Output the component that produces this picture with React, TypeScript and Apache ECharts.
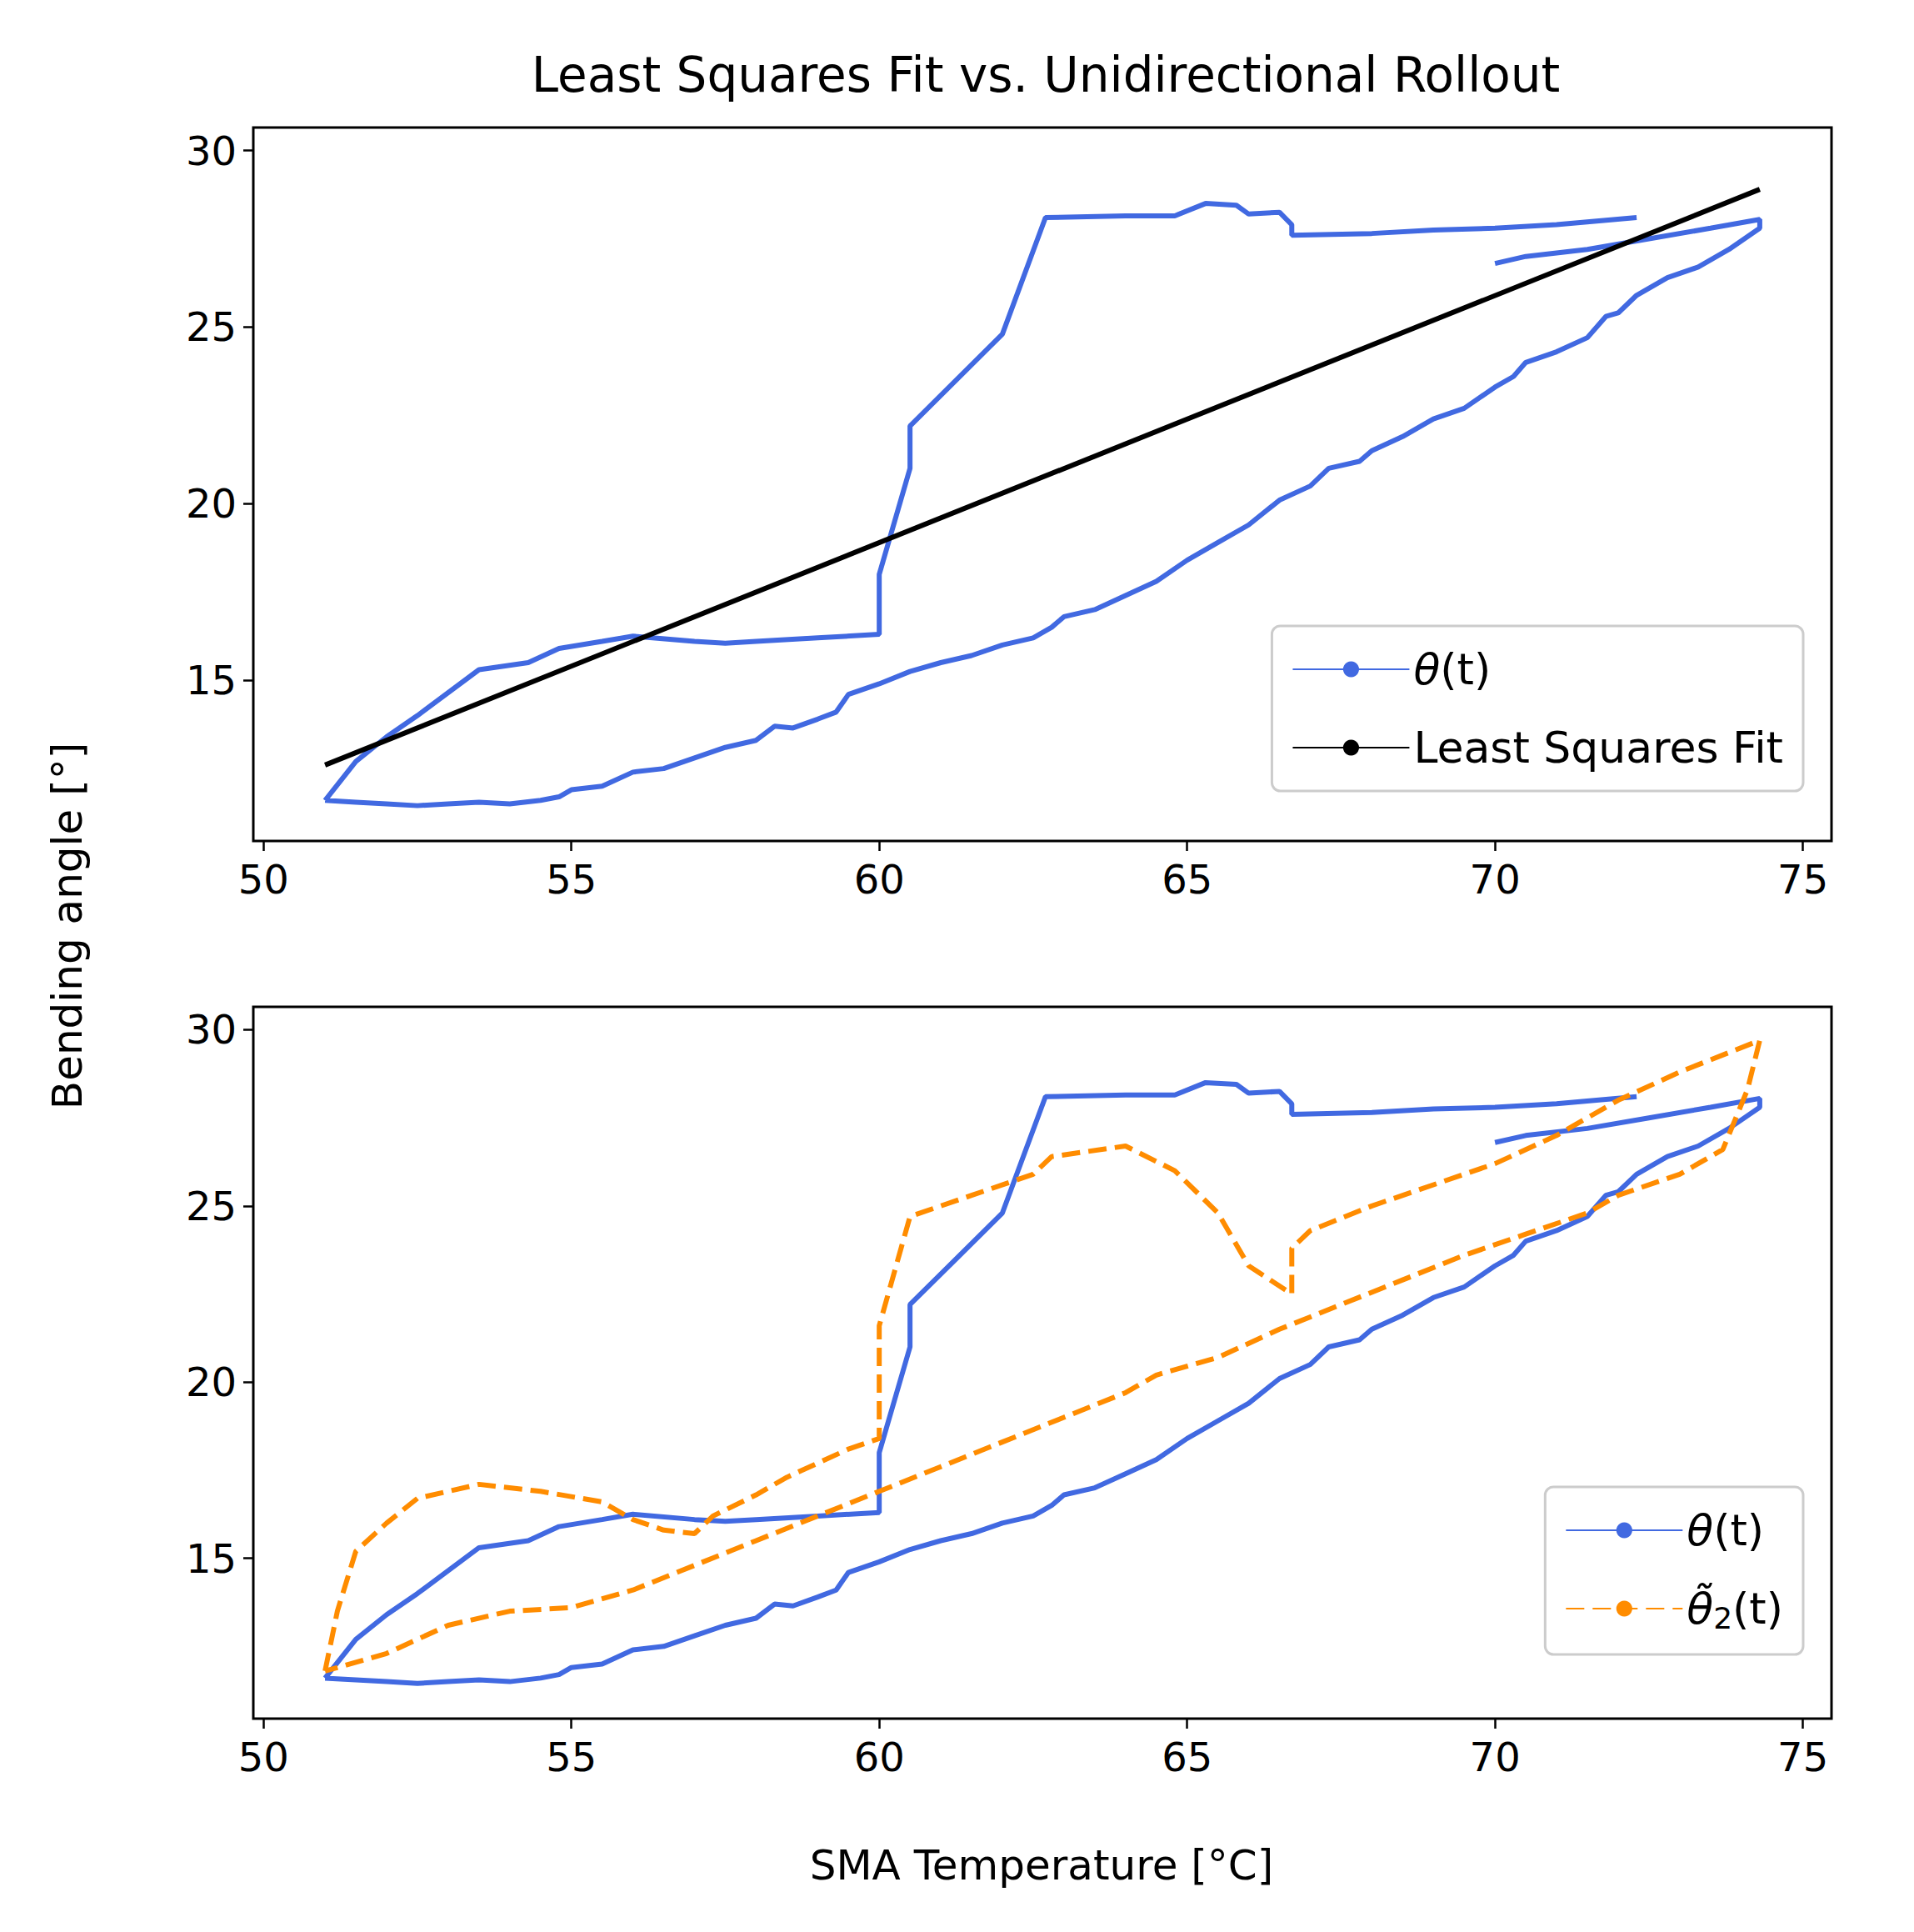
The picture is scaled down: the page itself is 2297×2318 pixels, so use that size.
import React, { useEffect, useRef } from "react";
import * as echarts from "echarts";

const xTicks = [50, 55, 60, 65, 70, 75];
const yTicks = [15, 20, 25, 30];

const thetaLower: [number, number][] = [
  [51, 11.6], [51.5, 11.55], [52, 11.5], [52.5, 11.45], [53, 11.5], [53.5, 11.55], [54, 11.5], [54.5, 11.6], [54.8, 11.7], [55, 11.9], [55.5, 12.0], [56, 12.4], [56.5, 12.5], [57, 12.8], [57.5, 13.1], [58, 13.3], [58.3, 13.7], [58.6, 13.65], [59, 13.9], [59.3, 14.1], [59.5, 14.6], [60, 14.9], [60.5, 15.25], [61, 15.5], [61.5, 15.7], [62, 16.0], [62.5, 16.2], [62.8, 16.5], [63, 16.8], [63.5, 17.0], [64, 17.4], [64.5, 17.8], [65, 18.4], [65.5, 18.9], [66, 19.4], [66.5, 20.1], [67, 20.5], [67.3, 21.0], [67.8, 21.2], [68, 21.5], [68.5, 21.9], [69, 22.4], [69.5, 22.7], [70, 23.3], [70.3, 23.6], [70.5, 24.0], [71, 24.3], [71.5, 24.7], [71.8, 25.3], [72, 25.4], [72.3, 25.9], [72.8, 26.4], [73.3, 26.7], [73.8, 27.2], [74.3, 27.8],
  [74.3, 28.05], [73.5, 27.8], [72.5, 27.5], [71.5, 27.2], [70.5, 27.0], [70, 26.8],
];
const thetaUpper: [number, number][] = [
  [51, 11.6], [51.5, 12.7], [52, 13.4], [52.5, 14.0], [53.5, 15.3], [54.3, 15.5], [54.8, 15.9], [55.5, 16.1], [56, 16.25], [57, 16.1], [57.5, 16.05], [58, 16.1], [59, 16.2], [60, 16.3], [60, 18.0], [60.5, 21.0], [60.5, 22.2], [62, 24.8], [62.7, 28.1], [64, 28.15], [64.8, 28.15], [65.3, 28.5], [65.8, 28.45], [66, 28.2], [66.5, 28.25], [66.7, 27.9], [66.7, 27.6], [68, 27.65], [69, 27.75], [70, 27.8], [71, 27.9], [72.3, 28.1],
];
const fitLine: [number, number][] = [[51, 12.6], [74.3, 28.9]];
const theta2: [number, number][] = [
  [51, 11.8], [51.2, 13.5], [51.5, 15.2], [52, 16.0], [52.5, 16.7], [53.5, 17.1], [54.5, 16.9], [55.5, 16.6], [56, 16.1], [56.5, 15.8], [57, 15.7], [57.3, 16.2], [58, 16.8], [58.5, 17.3], [59, 17.7], [59.5, 18.1], [60, 18.4], [60, 21.6], [60.5, 24.7], [61.5, 25.3], [62.5, 25.9], [62.8, 26.4], [64, 26.7], [64.8, 26.0], [65.5, 24.8], [66, 23.3], [66.7, 22.5], [66.7, 23.8], [67, 24.3], [68, 25.0], [69, 25.6], [70, 26.2], [71, 27.0], [72, 28.0], [73, 28.8], [74.3, 29.7],
  [74.1, 28.3], [73.7, 26.6], [73, 25.9], [72, 25.3], [71.5, 24.8], [70.5, 24.2], [69.5, 23.6], [68.5, 22.9], [67.5, 22.2], [66.5, 21.5], [65.5, 20.7], [64.5, 20.2], [64, 19.7], [63, 19.0], [62, 18.3], [61, 17.6], [60, 16.9], [59, 16.2], [58, 15.5], [57, 14.8], [56, 14.1], [55, 13.6], [54, 13.5], [53, 13.1], [52.5, 12.7], [52, 12.3], [51, 11.8],
];

export default function App() {
  const ref = useRef<HTMLDivElement>(null);
  useEffect(() => {
    document.body.style.margin = "0";
    const chart = echarts.init(ref.current!, undefined, { renderer: "svg" });
    const font = "DejaVu Sans";
    const mkX = (i: number) => ({
      type: "value", gridIndex: i, min: 49.835, max: 75.465,
      axisLine: { show: false }, splitLine: { show: false },
      axisTick: { show: true, length: 12, lineStyle: { color: "#000", width: 2.5 }, customValues: xTicks },
      axisLabel: { color: "#000", fontSize: 48, fontFamily: font, margin: 22, customValues: xTicks },
    });
    const mkY = (i: number) => ({
      type: "value", gridIndex: i, min: 10.45, max: 30.65,
      axisLine: { show: false }, splitLine: { show: false },
      axisTick: { show: true, length: 12, lineStyle: { color: "#000", width: 2.5 }, customValues: yTicks },
      axisLabel: { color: "#000", fontSize: 48, fontFamily: font, margin: 20, customValues: yTicks },
    });
    const blue = "#4169E1", orange = "#FF8C00";
    const legendCommon = {
      orient: "vertical", backgroundColor: "rgba(255,255,255,0.8)", borderColor: "#ccc", borderWidth: 3,
      borderRadius: 10, padding: [26, 24, 26, 24], itemWidth: 140, itemHeight: 24, itemGap: 42,
      textStyle: {
        fontSize: 52, fontFamily: font, color: "#000",
        rich: {
          i: { fontSize: 52, fontStyle: "italic", fontFamily: font },
          s: { fontSize: 36, fontFamily: font, verticalAlign: "bottom", padding: [22, 0, 0, 0] },
          n: { fontSize: 52, fontFamily: font },
        },
      },
    };
    chart.setOption({
      animation: false,
      title: { text: "Least Squares Fit vs. Unidirectional Rollout", left: 1250, top: 56, textAlign: "center",
        textStyle: { fontSize: 58, fontWeight: "normal", fontFamily: font, color: "#000" } },
      grid: [
        { left: 304, width: 1894, top: 153, height: 856, show: true, borderColor: "#000", borderWidth: 3 },
        { left: 304, width: 1894, top: 1208, height: 854, show: true, borderColor: "#000", borderWidth: 3 },
      ],
      xAxis: [mkX(0), mkX(1)],
      yAxis: [mkY(0), mkY(1)],
      legend: [
        { ...legendCommon, data: ["θ(t)", "Least Squares Fit"], right: 2297 - 2164, top: 751,
          formatter: (n: string) => (n === "θ(t)" ? "{i|θ}{n|(t)}" : "{n|" + n + "}") },
        { ...legendCommon, data: ["θ(t) ", "θ̃2(t)"], right: 2297 - 2164, top: 1784,
          formatter: (n: string) => (n === "θ(t) " ? "{i|θ}{n|(t)}" : "{i|θ̃}{s|2}{n|(t)}") },
      ],
      graphic: [
        { type: "text", x: 81, y: 1111, rotation: Math.PI / 2, style: { text: "Bending angle [°]", fontSize: 50, fontFamily: font, fill: "#000", align: "center", verticalAlign: "middle" } },
        { type: "text", x: 1250, y: 2238, style: { text: "SMA Temperature [°C]", fontSize: 50, fontFamily: font, fill: "#000", align: "center", verticalAlign: "middle" } },
      ],
      series: [
        { name: "θ(t)", type: "line", symbol: "none", xAxisIndex: 0, yAxisIndex: 0, data: [...thetaLower, null, ...thetaUpper] as any, lineStyle: { color: blue, width: 6 }, itemStyle: { color: blue } },
        { name: "Least Squares Fit", type: "line", symbol: "none", xAxisIndex: 0, yAxisIndex: 0, data: fitLine, lineStyle: { color: "#000", width: 6 }, itemStyle: { color: "#000" } },
        { name: "θ(t) ", type: "line", symbol: "none", xAxisIndex: 1, yAxisIndex: 1, data: [...thetaLower, null, ...thetaUpper] as any, lineStyle: { color: blue, width: 6 }, itemStyle: { color: blue } },
        { name: "θ̃2(t)", type: "line", symbol: "none", xAxisIndex: 1, yAxisIndex: 1, data: theta2, lineStyle: { color: orange, width: 6, type: [22, 10] }, itemStyle: { color: orange } },
      ],
    });
    return () => chart.dispose();
  }, []);
  return <div ref={ref} style={{ width: 2297, height: 2318 }} />;
}
